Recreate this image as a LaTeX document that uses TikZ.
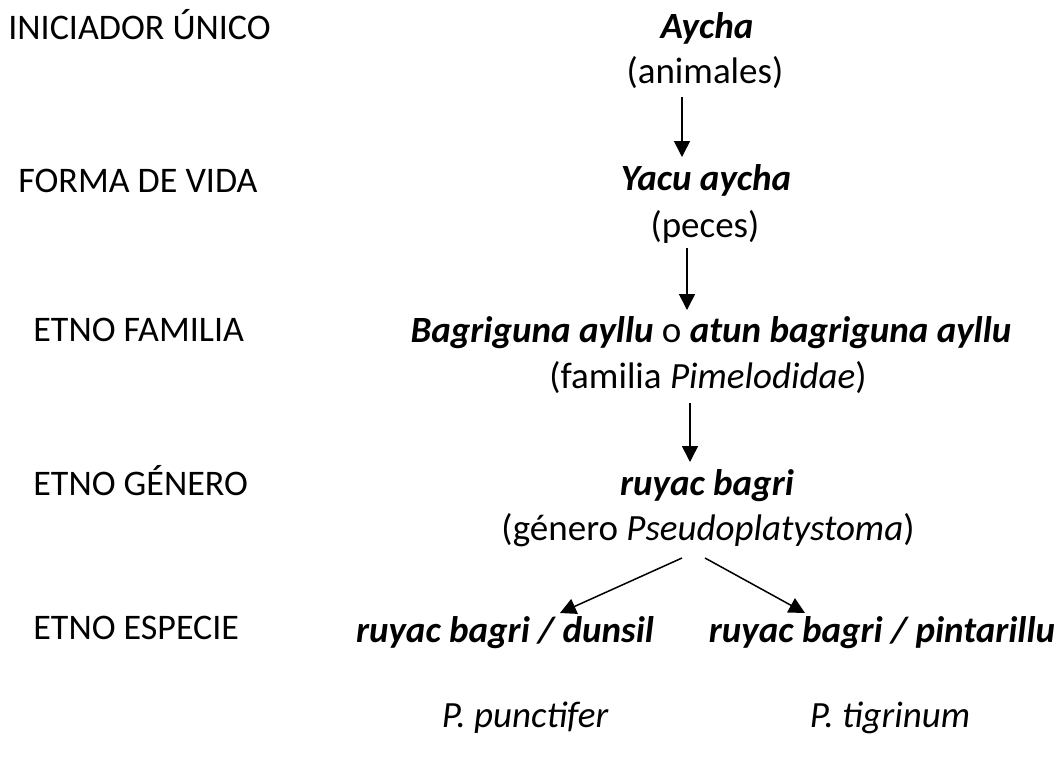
\documentclass[tikz,border=0pt]{standalone}
\usepackage{fontspec}
\setmainfont{Carlito}
\usepackage{tikz}
\usetikzlibrary{arrows.meta}

\begin{document}
\begin{tikzpicture}[x=0.5pt,y=-0.5pt,
      lvl/.style={anchor=base west,inner sep=0pt,font=\fontsize{18}{21}\selectfont},
      tx/.style={anchor=base,inner sep=0pt,font=\fontsize{18.5}{22}\selectfont},
      nm/.style={tx,font=\fontsize{18.5}{22}\selectfont\bfseries\itshape},
      sp/.style={tx,font=\fontsize{18.5}{22}\selectfont\itshape},
      arr/.style={line width=0.75pt,-{Triangle[width=8pt,length=8pt]}}]
    \useasboundingbox (0,0) rectangle (1062,757);
    % niveles
    \node[lvl] (l1) at (8,39) {INICIADOR ÚNICO};
    \node[lvl] (l2) at (18,192) {FORMA DE VIDA};
    \node[lvl] (l3) at (33,341) {ETNO FAMILIA};
    \node[lvl] (l4) at (33,495) {ETNO GÉNERO};
    \node[lvl] (l5) at (33,639) {ETNO ESPECIE};
    % columna central
    \node[nm] (aycha) at (707,38) {Aycha};
    \node[tx] (animales) at (705,83) {(animales)};
    \node[nm] (yacu) at (706,190) {Yacu aycha};
    \node[tx] (peces) at (705,237) {(peces)};
    \node[tx] (bagri) at (711,342) {\textbf{\textit{Bagriguna ayllu}} o \textbf{\textit{atun bagriguna ayllu}}};
    \node[tx] (familia) at (708,388) {(familia \textit{Pimelodidae})};
    \node[nm] (ruyac) at (707,495) {ruyac bagri};
    \node[tx] (genero) at (708,540) {(género \textit{Pseudoplatystoma})};
    \node[nm] (dunsil) at (505,642) {ruyac bagri / dunsil};
    \node[nm] (pinta) at (882,642) {ruyac bagri / pintarillu};
    \node[sp] (punct) at (525,727) {P. punctifer};
    \node[sp] (tigr) at (890,727) {P. tigrinum};
    % flechas
    \draw[arr] ([shift={(-11.5pt,-7pt)}]animales.base) -- ([shift={(-12pt,16.5pt)}]yacu.base);
    \draw[arr] ([shift={(-9pt,-5.5pt)}]peces.base) -- ([shift={(-12pt,16pt)}]bagri.base);
    \draw[arr] ([shift={(-9pt,-7.5pt)}]familia.base) -- ([shift={(-8.5pt,16.5pt)}]ruyac.base);
    \draw[arr] ([shift={(-13pt,-9pt)}]genero.base) -- ([shift={(27.5pt,14.5pt)}]dunsil.base);
    \draw[arr] ([shift={(-1.5pt,-9pt)}]genero.base) -- ([shift={(-38.5pt,14.5pt)}]pinta.base);
  \end{tikzpicture}
\end{document}
